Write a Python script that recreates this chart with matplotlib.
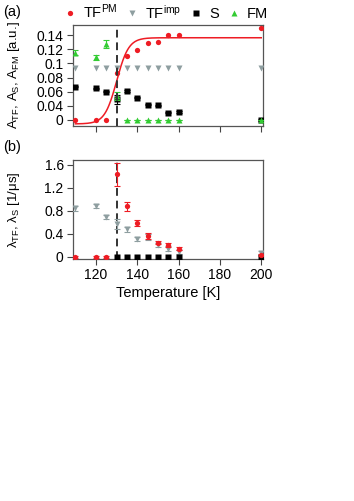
import numpy as np
import matplotlib
matplotlib.use("Agg")
from matplotlib import pyplot as plt

plt.rcParams['font.family'] = ['Liberation Sans', 'DejaVu Sans']
plt.rcParams['mathtext.fontset'] = 'custom'
plt.rcParams['mathtext.rm'] = 'Liberation Sans'
plt.rcParams['mathtext.it'] = 'Liberation Sans:italic'

RED = '#ee1c24'
GRAY = '#8e9ea0'
GREEN = '#33cc33'
BLACK = '#000000'

# temperatures [K]
temps = [110, 120, 125, 130, 135, 140, 145, 150, 155, 160, 200]

# panel (a): asymmetries
a_tf_pm = [0, 0, 0, 0.078, 0.105, 0.115, 0.127, 0.128, 0.1405, 0.1395, 0.151]
a_tf_imp = [0.0857] * 11
a_s = [0.055, 0.052, 0.0467, 0.034, 0.048, 0.037, 0.025, 0.024, 0.012, 0.013, 0.0]
a_s_err = [0.001, 0.001, 0.001, 0.007, 0.002, 0.001, 0.001, 0.001, 0.001, 0.001, 0.001]
a_fm = [0.111, 0.103, 0.125, 0.0395, 0, 0, 0, 0, 0, 0, 0]
a_fm_err = [0.004, 0.004, 0.006, 0.006, 0, 0, 0, 0, 0, 0, 0]

# fit of A_TF^PM (sigmoid parameters)
fit_low, fit_high, fit_tc, fit_width = -0.0065, 0.1355, 130.0, 2.9

# panel (b): relaxation rates
lam_tf_pm = [0, 0, 0, 1.43, 0.88, 0.59, 0.36, 0.25, 0.21, 0.145, 0.04]
lam_tf_pm_err = [0.01, 0.01, 0.01, 0.2, 0.08, 0.05, 0.05, 0.03, 0.03, 0.02, 0.02]
lam_tf_imp = [0.84, 0.88, 0.69, 0.57, 0.48, 0.31, 0.34, 0.21, 0.145, 0.09, 0.07]
lam_tf_imp_err = [0.04, 0.04, 0.03, 0.08, 0.04, 0.03, 0.05, 0.04, 0.04, 0.03, 0.03]
temps_s = [130, 135, 140, 145, 150, 155, 160, 200]
lam_s = [0, 0, 0, 0, 0, 0, 0, 0]

t_c = 130

yticks_a = np.linspace(0, 0.14, 7)
ytick_labels_a = ['0', '0.04', '0.06', '0.08', '0.1', '0.12', '0.14']

fig = plt.figure(figsize=(3.54, 5.01), dpi=100)
W, H = 354, 501
ax_a = fig.add_axes([72.7 / W, 1 - 126 / H, (263.3 - 72.7) / W, (126 - 25) / H])
ax_b = fig.add_axes([72.7 / W, 1 - 259.3 / H, (263.3 - 72.7) / W, (259.3 - 160) / H])

ms = 3.8
eb = dict(capsize=2, elinewidth=0.8, capthick=0.8, linestyle='none')

# ---- panel (a)
tt = np.linspace(110, 200, 400)
fit = fit_low + (fit_high - fit_low) / (1 + np.exp(-(tt - fit_tc) / fit_width))
ax_a.plot(tt, fit, color=RED, lw=1.1, zorder=3)
ax_a.plot(temps, a_tf_imp, 'v', color=GRAY, ms=ms, mec='none', zorder=4)
ax_a.errorbar(temps, a_s, yerr=a_s_err, fmt='s', color=BLACK, ms=ms, mec='none', zorder=5, **eb)
ax_a.errorbar(temps, a_fm, yerr=a_fm_err, fmt='^', color=GREEN, ms=ms, mec='none', zorder=6, **eb)
ax_a.plot(temps, a_tf_pm, 'o', color=RED, ms=ms, mec='none', zorder=7)
ax_a.axvline(t_c, color='#333333', lw=1.4, ls=(0, (4, 2.5)), zorder=8)

ax_a.set_xlim(108.7, 201)
ax_a.set_ylim(-0.0099, 0.1565)
ax_a.set_yticks(yticks_a)
ax_a.set_yticklabels(ytick_labels_a)
ax_a.set_xticks([120, 140, 160, 180, 200])
ax_a.set_xticklabels([])
ax_a.set_ylabel(r'A$_{\mathrm{TF}}$, A$_{\mathrm{S}}$, A$_{\mathrm{FM}}$ [a.u.]', fontsize=9.5)
ax_a.yaxis.set_label_coords(-0.265, 0.5)

# ---- panel (b)
ax_b.errorbar(temps, lam_tf_imp, yerr=lam_tf_imp_err, fmt='v', color=GRAY, ms=ms, mec='none', zorder=4, **eb)
ax_b.plot(temps_s, lam_s, 's', color=BLACK, ms=ms, mec='none', zorder=5)
ax_b.errorbar(temps, lam_tf_pm, yerr=lam_tf_pm_err, fmt='o', color=RED, ms=ms, mec='none', zorder=6, **eb)
ax_b.axvline(t_c, color='#333333', lw=1.4, ls=(0, (4, 2.5)), zorder=3)

ax_b.set_xlim(108.7, 201)
ax_b.set_ylim(-0.04, 1.68)
ax_b.set_yticks([0, 0.4, 0.8, 1.2, 1.6])
ax_b.set_yticklabels(['0', '0.4', '0.8', '1.2', '1.6'])
ax_b.set_xticks([120, 140, 160, 180, 200])
ax_b.set_xlabel('Temperature [K]', fontsize=10.5, labelpad=3)
ax_b.set_ylabel('λ$_{\\mathrm{TF}}$, λ$_{\\mathrm{S}}$ [1/μs]', fontsize=9.5)
ax_b.yaxis.set_label_coords(-0.265, 0.5)

for ax in (ax_a, ax_b):
    for sp in ax.spines.values():
        sp.set_color('#555555')
        sp.set_linewidth(0.9)
    ax.tick_params(direction='out', length=4, width=0.8, color='#444444',
                   labelsize=10, pad=2.5)

fig.text(3 / W, 1 - 12 / H, '(a)', fontsize=10.5, va='center', ha='left')
fig.text(3 / W, 1 - 147 / H, '(b)', fontsize=10.5, va='center', ha='left')

# legend above panel (a)
handles = [
    plt.Line2D([], [], marker='o', color=RED, ls='none', ms=ms, mec='none'),
    plt.Line2D([], [], marker='v', color=GRAY, ls='none', ms=ms, mec='none'),
    plt.Line2D([], [], marker='s', color=BLACK, ls='none', ms=ms, mec='none'),
    plt.Line2D([], [], marker='^', color=GREEN, ls='none', ms=ms, mec='none'),
]
labels = [r'TF$^{\mathrm{PM}}$', r'TF$^{\mathrm{imp}}$', 'S', 'FM']
fig.legend(handles, labels, ncol=4, frameon=False, fontsize=10.5,
           loc='center', bbox_to_anchor=(166 / W, 1 - 12 / H),
           handlelength=0.8, handletextpad=0.5, columnspacing=0.6, borderpad=0)

fig.savefig('out.png', dpi=100)
